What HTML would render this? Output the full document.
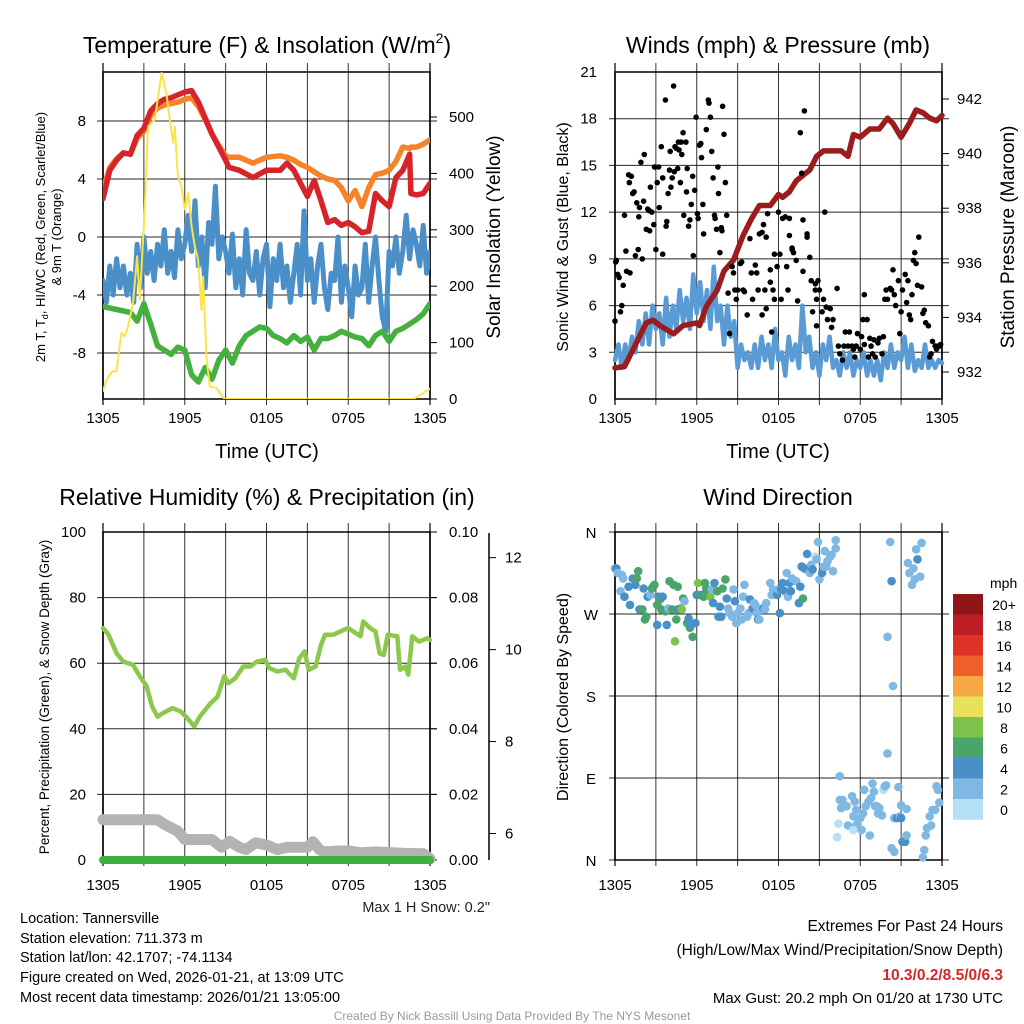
<!DOCTYPE html>
<html><head><meta charset="utf-8">
<style>
html,body{margin:0;padding:0;background:#fff;}
svg{display:block;font-family:"Liberation Sans",Arial,sans-serif;}
</style></head>
<body>
<svg id="chart" width="1024" height="1024" viewBox="0 0 1024 1024" xmlns="http://www.w3.org/2000/svg">
<rect width="1024" height="1024" fill="#fff"/>
<g id="layer"></g>
<text x="267" y="53" font-size="23" text-anchor="middle">Temperature (F) &amp; Insolation (W/m<tspan font-size="14" dy="-10">2</tspan><tspan dy="10">)</tspan></text>
<text x="778" y="53" font-size="23" text-anchor="middle">Winds (mph) &amp; Pressure (mb)</text>
<text x="267" y="505" font-size="23" text-anchor="middle">Relative Humidity (%) &amp; Precipitation (in)</text>
<text x="778" y="505" font-size="23" text-anchor="middle">Wind Direction</text>
<text transform="translate(45,237) rotate(-90)" font-size="13" text-anchor="middle">2m T, T<tspan font-size="9" dy="3">d</tspan><tspan dy="-3">, HI/WC (Red, Green, Scarlet/Blue)</tspan></text>
<text transform="translate(61,237) rotate(-90)" font-size="13" text-anchor="middle">&amp; 9m T (Orange)</text>
<text transform="translate(500,237) rotate(-90)" font-size="19" text-anchor="middle">Solar Insolation (Yellow)</text>
<text x="267" y="458" font-size="20" text-anchor="middle">Time (UTC)</text>
<text transform="translate(568,237) rotate(-90)" font-size="16" text-anchor="middle">Sonic Wind &amp; Gust (Blue, Black)</text>
<text transform="translate(1014,237) rotate(-90)" font-size="19" text-anchor="middle">Station Pressure (Maroon)</text>
<text x="778" y="458" font-size="20" text-anchor="middle">Time (UTC)</text>
<text transform="translate(49,697) rotate(-90)" font-size="13.5" text-anchor="middle">Percent, Precipitation (Green), &amp; Snow Depth (Gray)</text>
<text transform="translate(568,697) rotate(-90)" font-size="16" text-anchor="middle">Direction (Colored By Speed)</text>
<text x="490" y="912" font-size="14.5" text-anchor="end" fill="#222">Max 1 H Snow: 0.2"</text>
<text x="990" y="588" font-size="14">mph</text>
<g font-size="14.5" fill="#000">
<text x="20" y="923">Location: Tannersville</text>
<text x="20" y="943">Station elevation: 711.373 m</text>
<text x="20" y="962">Station lat/lon: 42.1707; -74.1134</text>
<text x="20" y="982">Figure created on Wed, 2026-01-21, at 13:09 UTC</text>
<text x="20" y="1002">Most recent data timestamp: 2026/01/21 13:05:00</text>
<text x="1003" y="931" text-anchor="end" font-size="15.5">Extremes For Past 24 Hours</text>
<text x="1003" y="955" text-anchor="end" font-size="15.5">(High/Low/Max Wind/Precipitation/Snow Depth)</text>
<text x="1003" y="980" text-anchor="end" font-size="15.5" font-weight="bold" fill="#d62728">10.3/0.2/8.5/0/6.3</text>
<text x="1003" y="1003" text-anchor="end" font-size="15">Max Gust: 20.2 mph On 01/20 at 1730 UTC</text>
</g>
<text x="512" y="1020" font-size="12" fill="#999" text-anchor="middle">Created By Nick Bassill Using Data Provided By The NYS Mesonet</text>
</svg>
<script>
const timeTickLabels = ["1305","1905","0105","0705","1305"];
const tempTicks = [-8,-4,0,4,8];
const insolTicks = [0,100,200,300,400,500];
const windTicks = [0,3,6,9,12,15,18,21];
const pressTicks = [932,934,936,938,940,942];
const rhTicks = [0,20,40,60,80,100];
const precipTicks = ["0.00","0.02","0.04","0.06","0.08","0.10"];
const snowTicks = [6,8,10,12];
const dirTickLabels = ["N","E","S","W","N"];
const speedBinLabels = ["20+","18","16","14","12","10","8","6","4","2","0"];
const speedBinColors = ["#8e1518","#bd1e24","#e03127","#ef5f2a","#f5a844","#e8e15a","#7dc24b","#4aa56b","#4a90c8","#7fb8e3","#b5e0f7"];

const tempHours = [0,0.5,1,1.5,2,2.5,3,3.5,4,4.5,5,5.5,6,6.5,7,7.5,8,8.5,9,9.25,10,11,12,13,13.5,14,14.5,15,15.5,16,16.5,17,17.5,18,18.5,19,19.5,20,20.5,21,21.5,22,22.5,22.6,23,23.5,24];
const tempRed = [2.65,4.6,5.3,5.8,5.7,7.0,7.5,8.7,9.2,9.5,9.6,9.8,10.0,10.1,9.3,8.2,7.1,6.2,5.3,4.8,4.6,4.1,4.6,4.6,5.1,4.6,3.7,2.8,3.9,2.5,1.0,1.2,0.8,1.0,0.7,0.3,0.4,3.0,2.5,2.1,4.1,4.6,5.7,3.0,2.9,3.0,3.7];
const tempOrange = [3.3,4.8,5.4,5.8,5.7,6.8,7.3,8.4,8.9,9.1,9.2,9.3,9.5,9.6,9.0,8.1,7.1,6.3,5.6,5.5,5.5,5.1,5.5,5.6,5.5,5.3,5.0,4.8,4.5,4.2,4.0,3.9,3.4,2.5,3.2,2.1,3.4,4.3,4.4,4.6,5.2,6.2,6.1,6.2,6.2,6.4,6.7];
const dewHours = [0,1,2,2.5,3,3.5,4,4.5,5,5.5,6,6.5,7,7.5,8,8.5,9,9.5,10,10.5,11,11.5,12,12.5,13,13.5,14,14.5,15,15.5,16,16.5,17,17.5,18,18.5,19,19.5,20,20.5,21,21.5,22,22.5,23,23.5,24];
const dewpoint = [-4.8,-5.0,-5.2,-5.8,-4.6,-6.0,-7.5,-7.8,-8.1,-7.6,-7.8,-9.5,-10.0,-9.0,-9.8,-8.5,-7.8,-8.7,-7.5,-6.8,-6.5,-6.2,-6.3,-6.8,-7.0,-7.3,-6.8,-7.2,-6.9,-7.8,-7.0,-7.0,-6.8,-6.5,-6.7,-6.9,-7.0,-7.5,-6.8,-6.5,-7.2,-6.5,-6.3,-6.0,-5.7,-5.3,-4.6];
const windChill = [-3,-4.5,-2,-4,-1.5,-3.5,-2,-4,-2.5,-4.5,-0.5,-3.5,0,-2.5,-1,-3,-0.5,-2,0.5,-2.5,-1,-2.8,0.5,-1.5,-0.5,1.5,-1,2.5,-2,0,-3.5,1,-0.5,3.5,-1.5,0,-1,-2.5,0.2,-3.5,-1.5,-4,0.5,-2.5,-3,-1,-4,-1.5,-0.5,-4.8,-1.5,-3,-0.5,-3.5,-2,-4.5,-2.5,-0.5,-4,1.8,-3,-1.5,-4.5,-2,-0.5,-3.5,-5,-2.5,-3,0,-4.5,-2,-3.5,-5.5,-2,-4,-3.5,-0.5,-4.5,-2,0,-3,-5.5,-6.5,-1,-2,0,-2.5,-1,1.5,-1.5,0.5,-0.5,-2,0.8,-2.5,-1];
const insolHours = [0,0.25,0.7,0.98,1.35,1.6,1.84,2.2,2.5,2.7,3.06,3.3,3.8,4.3,4.65,4.9,5.15,5.27,5.5,5.76,6.0,6.25,6.5,6.74,6.98,7.23,7.35,7.6,7.84,8.3,8.9,22.8,24];
const insolation = [14,34,49,49,117,111,129,170,253,176,336,483,495,578,542,495,454,483,395,377,336,365,306,271,247,158,217,70,22,20,0,0,18];

const windHours = Array.from({length:97},(_,i)=>i*0.25);
const sonicWind = [2.5,3.5,2,3.5,2.5,4,3,5,3.5,5.5,3.5,6,4.5,5.5,3.5,6.5,4,6,4.5,7,5,6.5,4.5,8,5.5,7.5,5,7,4.5,8.5,5,6,3.5,6,4,5,2,3.5,2.5,3,2,3.5,2,4,2.5,3.5,2,4.5,2.5,3,1.5,4,2.5,3.5,2,6,3,4,2,3,1.5,3.5,2.5,4,2,2.5,1.5,3,2,3,1.5,2.5,2,3,1.5,2.5,1.5,2.5,1.2,3,2,3.5,2,3,2.5,4,2,3.5,1.8,2.5,2,3.5,2,2.5,2,2.5,2.3];
const gustHours = [0,0.05,0.1,0.2,0.3,0.4,0.5,0.6,0.7,0.8,0.85,1.0,1.05,1.1,1.2,1.3,1.4,1.5,1.6,1.7,1.75,1.8,1.9,2.0,2.1,2.15,2.3,2.4,2.5,2.55,2.6,2.7,2.85,2.9,3.0,3.1,3.2,3.25,3.4,3.5,3.5,3.7,3.75,3.8,3.9,4.0,4.05,4.1,4.2,4.3,4.35,4.4,4.5,4.6,4.65,4.7,4.8,4.85,4.9,5.0,5.05,5.2,5.25,5.3,5.4,5.5,5.6,5.7,5.75,5.85,5.95,6.05,6.1,6.2,6.3,6.35,6.45,6.5,6.7,6.85,6.9,7.0,7.1,7.2,7.3,7.35,7.45,7.55,7.6,7.7,7.8,7.85,7.9,8.0,8.1,8.2,8.3,
8.4,8.6,8.7,8.8,8.9,9.0,9.2,9.3,9.4,9.5,9.7,9.9,10.0,10.1,10.3,10.4,10.5,10.6,10.8,10.8,10.9,11.0,11.1,11.1,11.2,11.4,11.4,11.5,11.6,11.7,11.7,11.9,12.0,12.1,12.2,12.3,12.5,12.6,12.7,12.8,12.8,13.0,13.0,13.1,13.3,13.4,13.6,13.7,13.8,13.8,13.9,14.1,14.1,14.3,14.4,14.5,14.7,14.7,14.8,14.8,14.9,15.0,15.2,15.3,15.4,15.5,15.6,15.8,15.9,16.0,16.3,16.4,16.5,16.7,16.8,16.9,17.1,17.2,17.4,17.5,17.6,17.7,17.8,18.0,18.1,18.2,18.3,18.3,18.5,18.6,18.7,18.8,18.9,19.0,19.1,19.3,19.4,19.6,19.7,19.8,19.9,20.0,20.2,20.3,20.4,20.5,20.6,20.8,20.9,21.0,21.1,21.3,21.4,21.5,21.6,21.7,21.8,21.9,22.0,22.1,22.2,22.3,22.5,22.6,22.7,22.8,23.0,23.1,23.2,23.3,23.5,23.6,23.7,23.8,23.9];
const gustValues = [5,8.8,8.9,8,7.8,5.6,6,7.3,11.8,9.5,8.2,14.4,13.9,8.1,14.3,13.2,13.3,9.2,12.6,9.6,11.7,12.3,15.2,9,12.7,15.7,10.9,12.2,12.1,10.8,13.6,12,11.2,14.9,9.6,13.9,14.9,12.3,16.2,14.2,9.3,19.2,11.1,11.4,13.2,14.7,15.9,13.6,14.2,20.1,14.6,16.2,16.1,14.8,16.5,16,13.9,16.5,15.7,17.1,11.8,16.5,13.3,14.8,11.1,11.5,12.5,14.3,9.2,13.4,18.1,11.9,11.6,16.3,16.4,15.5,12.5,10.6,17.3,19.2,19,18.1,15.9,14.2,11.8,11.6,10.9,14.9,13.2,9.4,11,10.8,18.8,17,13.9,11.8,6.8,4.2,
8.5,8.1,7.0,6.4,7.0,8.7,8.8,7.0,6.9,5.4,10.3,8.1,6.4,8.6,8.1,7.0,10.6,5.4,10.7,11.2,7.0,5.8,10.4,11.9,8.3,7.5,4.3,7.0,9.3,6.4,8.5,12.0,9.3,6.4,11.6,11.7,8.5,7.0,11.6,10.5,9.7,9.6,9.4,8.9,6.3,17.1,14.5,8.2,11.5,18.5,10.4,10.6,9.1,7.6,5.6,7.4,7.0,4.7,6.4,7.6,7.0,5.6,6.4,12.0,5.9,5.1,5.8,4.6,5.1,7.1,3.4,2.9,2.5,3.4,4.3,3.4,4.3,3.4,3.2,2.7,3.4,4.2,3.2,4.0,5.1,6.7,3.5,5.1,2.7,3.9,3.4,2.9,3.8,2.7,3.6,3.9,2.9,4.0,6.4,7.0,6.4,7.1,7.0,8.3,6.7,6.0,7.6,4.2,5.6,7.0,8.0,6.2,7.6,5.4,5.1,6.7,8.9,9.4,8.7,7.3,10.4,7.2,5.5,5.7,4.9,4.7,2.7,2.9,3.7,3.4,3.2,3.4,3.4,3.5,4.3];
const pressHours = [0,0.7,1.3,2.3,2.8,3.3,4.3,5.0,6.0,6.2,6.7,7.5,8.0,8.7,9.4,10.0,10.6,11.4,12.0,12.3,12.8,13.3,13.8,14.3,14.8,15.3,16.0,16.6,17.1,17.5,18.0,18.7,19.4,20.0,20.4,21.0,21.6,22.1,22.6,23.1,23.6,24];
const pressure = [932.15,932.2,932.8,933.8,933.9,933.7,933.4,933.7,933.8,933.7,934.4,935.0,935.7,936.1,937.0,937.6,938.1,938.1,938.5,938.4,938.6,939.0,939.2,939.4,939.9,940.1,940.1,940.1,939.9,940.7,940.6,940.9,940.9,941.3,941.1,940.6,941.1,941.6,941.5,941.3,941.2,941.4];

const rhHours = [0,0.4,1.0,1.5,2.2,2.7,3.2,3.6,4.0,4.4,5.1,5.7,6.2,6.7,7.1,7.9,8.4,8.9,9.2,9.7,10.3,10.8,11.3,11.9,12.2,12.8,13.4,14.0,14.4,14.8,15.1,15.6,16.0,16.3,16.9,17.7,18.0,18.9,19.1,19.6,20.0,20.3,20.6,20.9,21.6,21.8,22.2,22.4,22.7,23.2,23.8,24];
const relHumidity = [70.7,68.7,63,60.5,59.5,56,53,46.8,43.7,44.8,46.3,45.3,43.2,40.7,43.7,47.8,49.8,56,53.9,55.4,59,59,60.5,61,58.5,57.5,58,55.4,61.5,63.6,58,59,65.6,68.7,68.7,70.2,70.7,68.2,72.7,70.7,69.7,63,62.5,68.7,68.2,58,59,56.5,68.2,66.6,67.6,67.1];
const snowHours = [0,4.0,4.5,5.5,6.0,8.0,8.7,9.3,10,10.5,11.2,12,12.8,13.5,15,15.4,15.9,16.2,17.3,18.0,19,20,22,23.5,24];
const snowDepth = [6.3,6.3,6.2,6.05,5.87,5.87,5.7,5.83,5.7,5.65,5.8,5.75,5.65,5.7,5.7,5.82,5.65,5.6,5.62,5.62,5.58,5.6,5.57,5.56,5.45];
const precipHours = [0,24];
const precip = [0,0];

const dirHours = [0,0.1,0.2,0.5,0.6,0.4,0.7,1.0,1.1,1.3,1.5,1.6,1.7,1.8,2.0,2.1,2.2,2.3,2.4,2.6,2.7,2.8,2.9,3.1,3.1,3.2,3.3,3.4,3.5,3.7,3.8,3.9,4.0,4.2,4.3,4.4,4.5,4.6,4.6,4.8,4.9,5.0,5.1,5.3,5.4,5.5,5.6,5.7,5.9,6.0,6.1,6.2,6.4,6.5,6.6,6.7,6.8,7.0,7.1,7.2,7.3,7.5,7.6,7.7,7.8,7.9,8.1,8.2,8.3,8.4,8.6,8.7,8.8,8.9,9.0,9.2,9.3,9.4,9.5,9.7,9.8,9.9,10.1,10.2,10.3,10.4,10.5,10.6,10.8,10.9,11.0,11.1,11.4,11.5,11.6,11.9,12.0,12.1,12.2,12.3,12.5,12.6,12.7,12.8,12.9,13.0,13.3,13.5,13.6,13.7,13.8,13.9,14.1,14.1,14.3,14.4,14.5,14.7,14.8,14.9,15.0,15.2,15.3,15.4,15.5,15.6,15.8,15.9,16.0,16.2,16.2,
16.5,16.5,16.6,16.4,16.3,16.7,17.0,17.1,17.4,17.5,17.6,17.7,17.7,17.8,17.5,18.0,18.1,18.2,18.3,18.4,18.6,18.7,18.8,18.9,19.0,19.1,19.2,19.3,19.4,19.6,19.7,19.8,19.9,20.0,20.0,20.2,20.3,20.4,20.5,20.7,20.8,20.9,21.0,21.0,21.1,21.3,21.4,21.4,20.3,20.5,21.5,21.6,21.8,21.9,22.0,22.1,22.2,22.4,22.5,22.6,22.7,22.8,22.9,23.1,23.2,23.3,23.5,23.6,23.7,23.8];
const dirDegrees = [320,320,315,313,309,295,289,300,280,309,302,309,317,275,275,298,264,267,289,291,298,300,302,280,258,289,286,275,289,273,258,276,306,275,302,240,264,300,275,276,275,287,284,260,265,255,258,245,260,291,304,291,291,289,304,298,295,289,297,282,304,295,267,278,267,298,308,287,276,271,267,297,284,260,271,276,264,289,302,267,271,286,276,282,280,271,264,264,276,276,275,282,304,291,297,291,297,271,297,304,295,315,289,304,295,309,306,282,300,322,287,320,319,336,315,324,319,333,330,349,308,315,322,339,322,328,333,335,317,342,351,
92,66,57,40,25,66,59,38,70,48,64,38,55,40,33,46,33,51,77,59,64,27,68,84,75,59,59,51,57,49,77,81,82,117,245,349,306,191,46,46,80,48,60,46,20,20,27,56,13,9,326,315,302,320,308,341,330,311,348,3,11,27,35,48,38,55,55,81,77,63];
const dirSpeed = [3,5,3,3,3,3,5,5,5,5,5,7,7,5,7,5,7,7,5,3,7,7,7,7,5,5,7,7,5,7,5,3,7,7,7,9,7,7,5,7,9,7,3,7,5,7,5,7,5,5,9,7,5,7,7,7,7,9,3,5,5,7,5,5,5,7,7,5,3,3,3,3,5,3,3,3,3,3,3,3,3,5,5,3,3,3,5,3,3,5,3,3,3,3,3,5,3,5,5,5,5,3,3,5,5,3,3,5,5,5,7,5,5,5,3,3,5,1,3,3,3,5,3,3,3,3,3,3,3,3,3,
3,3,3,1,1,3,3,3,3,3,3,3,3,3,1,3,3,3,3,3,3,3,3,3,3,3,3,3,3,3,1,3,3,3,3,3,5,3,3,5,3,3,3,5,5,5,3,3,3,3,3,3,3,3,3,3,5,3,3,3,3,3,3,3,3,3,3,3,3,3];

const NS = "http://www.w3.org/2000/svg";
const layer = document.getElementById('layer');
function mk(tag, attrs, parent){
  const e = document.createElementNS(NS, tag);
  for (const k in attrs) e.setAttribute(k, attrs[k]);
  (parent||layer).appendChild(e);
  return e;
}
function linScale(d0,d1,r0,r1){ return v => r0 + (v-d0)/(d1-d0)*(r1-r0); }
function pathFrom(xs, ys, sx, sy){
  let d = "";
  for (let i=0;i<xs.length;i++) d += (i?"L":"M") + sx(xs[i]).toFixed(1) + " " + sy(ys[i]).toFixed(1);
  return d;
}
function drawLine(xs, ys, sx, sy, color, w, name){
  const p = mk('path', {d: pathFrom(xs,ys,sx,sy), fill:'none', stroke:color, 'stroke-width':w, 'stroke-linejoin':'round', 'stroke-linecap':'round'});
  
  
  return p;
}
function txt(x,y,s,size,anchor,name){
  const t = mk('text', {x:x, y:y, 'font-size':size, 'text-anchor':anchor});
  t.textContent = s;
  
  
  return t;
}
const L=[103,615], R=[430,942], T=[72,532], B=[399,860];

function timeGrid(px, top, bottom, prefix, labOff){
  const sx = linScale(0,24,L[px],R[px]);
  for (let k=0;k<=8;k++){
    const x = sx(k*3);
    const g = mk('line',{x1:x,x2:x,y1:top-9,y2:bottom+6,stroke:'#000','stroke-width':(k==0||k==8)?1.5:1, 'stroke-opacity':0.8});
    
    
  }
  timeTickLabels.forEach((s,i)=>{ txt(sx(i*6), bottom+labOff, s, 15, 'middle', prefix+'-x-tick-label'); });
  return sx;
}
function hgrid(y, px, name){
  const g = mk('line',{x1:L[px]-6,x2:R[px]+7,y1:y,y2:y,stroke:'#000','stroke-width':1,'stroke-opacity':0.85});
  
  
}
function border(px, top, bottom, name){
  const r = mk('rect',{x:L[px],y:top,width:R[px]-L[px],height:bottom-top,fill:'none',stroke:'#000','stroke-width':1.5});
  
  
}

{
  const sx = timeGrid(0, T[0], B[0], 'temp', 24);
  const sy = linScale(0,8,237,121);
  const sI = linScale(0,500,399,117);
  tempTicks.forEach(v=>{ hgrid(sy(v),0,'temp-hgrid'); txt(86, sy(v)+5, String(v), 15, 'end', 'temp-y-tick-label'); });
  insolTicks.forEach(v=>{ txt(449, sI(v)+5, String(v), 15, 'start', 'insolation-tick-label');
    const t=mk('line',{x1:R[0],x2:R[0]+7,y1:sI(v),y2:sI(v),stroke:'#000'});   });
  border(0, T[0], B[0], 'temp-plot-frame');
  const clip = mk('clipPath',{id:'c1'}); mk('rect',{x:L[0],y:T[0],width:R[0]-L[0],height:B[0]-T[0]},clip);
  const g = mk('g',{'clip-path':'url(#c1)'});
   
  const wx = i => i/(windChill.length-1)*24;
  g.appendChild(drawLine(windChill.map((v,i)=>wx(i)), windChill, sx, sy, '#4a8fc8', 5, 'windchill-line'));
  g.appendChild(drawLine(dewHours, dewpoint, sx, sy, '#45b03f', 5.5, 'dewpoint-line'));
  g.appendChild(drawLine(tempHours, tempOrange, sx, sy, '#f5832a', 5.5, 'temp-9m-line'));
  g.appendChild(drawLine(tempHours, tempRed, sx, sy, '#d7232a', 5.5, 'temp-2m-line'));
  g.appendChild(drawLine(insolHours, insolation, sx, sI, '#fbe44a', 2, 'insolation-line'));
}
{
  const sx = timeGrid(1, T[0], B[0], 'wind', 24);
  const sy = linScale(0,21,399,72);
  const sP = linScale(932,942,372,99);
  windTicks.forEach(v=>{ if(v>0&&v<21) hgrid(sy(v),1,'wind-hgrid'); txt(597, sy(v)+5, String(v), 15, 'end', 'wind-y-tick-label'); });
  pressTicks.forEach(v=>{ txt(957, sP(v)+5, String(v), 15, 'start', 'pressure-tick-label');
    const t=mk('line',{x1:R[1],x2:R[1]+7,y1:sP(v),y2:sP(v),stroke:'#000'});   });
  border(1, T[0], B[0], 'wind-plot-frame');
  const g = mk('g',{});
   
  g.appendChild(drawLine(windHours, sonicWind, sx, sy, '#5b9bd5', 4.5, 'sonic-wind-line'));
  g.appendChild(drawLine(pressHours, pressure, sx, sP, '#9b1c1c', 5.5, 'pressure-line'));
  gustHours.forEach((h,i)=>{
    const c = mk('circle',{cx:sx(h).toFixed(1), cy:sy(gustValues[i]).toFixed(1), r:2.8, fill:'#000'}, g);
    
    
  });
}
{
  const sx = timeGrid(0, T[1], B[1], 'rh', 30);
  const sy = linScale(0,100,B[1],T[1]);
  const sS = linScale(6,12,833.5,557.7);
  rhTicks.forEach((v,i)=>{ if(v>0&&v<100) hgrid(sy(v),0,'rh-hgrid'); txt(86, sy(v)+5, String(v), 15, 'end', 'rh-y-tick-label');
    txt(449, sy(v)+5, precipTicks[i], 15, 'start', 'precip-tick-label');
    const t=mk('line',{x1:R[0],x2:R[0]+7,y1:sy(v),y2:sy(v),stroke:'#000'});   });
  const ax = mk('line',{x1:489,x2:489,y1:533,y2:860,stroke:'#000','stroke-width':1.5});
   
  snowTicks.forEach(v=>{ const t=mk('line',{x1:489,x2:496,y1:sS(v),y2:sS(v),stroke:'#000'});  
    txt(505, sS(v)+5, String(v), 15, 'start', 'snow-tick-label'); });
  border(0, T[1], B[1], 'rh-plot-frame');
  drawLine(snowHours, snowDepth, sx, sS, '#b3b3b3', 11, 'snow-depth-line');
  drawLine(rhHours, relHumidity, sx, sy, '#8cc84b', 4.5, 'rh-line');
  drawLine(precipHours, precip, sx, sy, '#3cb043', 8, 'precip-line');
}
{
  const sx = timeGrid(1, T[1], B[1], 'dir', 30);
  const sy = linScale(0,360,B[1],T[1]);
  dirTickLabels.forEach((s,i)=>{ const v=i*90; hgrid(sy(v),1,'dir-hgrid'); txt(591, sy(v)+6, s, 15, 'middle', 'dir-y-tick-label'); });
  border(1, T[1], B[1], 'dir-plot-frame');
  function colorFor(s){ const bin = Math.min(10, Math.floor(s/2)); return speedBinColors[10-bin]; }
  dirHours.forEach((h,i)=>{
    const c = mk('circle',{cx:sx(h).toFixed(1), cy:sy(dirDegrees[i]).toFixed(1), r:4.3, fill:colorFor(dirSpeed[i])});
    
    
  });
  const top=594, bh=20.5;
  speedBinColors.forEach((col,i)=>{
    const r = mk('rect',{x:953,y:top+i*bh,width:30,height:bh+0.3,fill:col});
    
    
    txt(1004, top+i*bh+16, speedBinLabels[i], 14, 'middle', 'colorbar-label');
  });
}
</script>
</body></html>
